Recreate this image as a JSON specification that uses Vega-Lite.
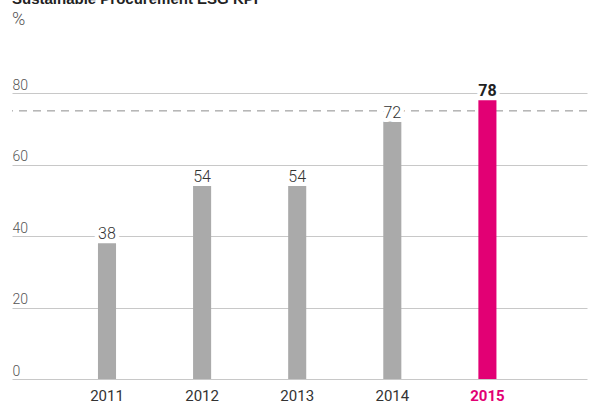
{
  "$schema": "https://vega.github.io/schema/vega-lite/v6.json",
  "width": 575,
  "height": 286,
  "autosize": "none",
  "padding": {"left": 12, "top": 93, "right": 8, "bottom": 28},
  "title": {
    "text": "Sustainable Procurement ESG KPI",
    "subtitle": "%",
    "anchor": "start",
    "frame": "group",
    "font": "Liberation Sans",
    "fontSize": 15,
    "fontWeight": "bold",
    "color": "#222222",
    "subtitleFont": "Roboto",
    "subtitleFontWeight": 300,
    "subtitleFontSize": 18,
    "subtitleColor": "#555555",
    "subtitlePadding": 4,
    "offset": 49
  },
  "config": {
    "view": {"stroke": null},
    "font": "Roboto"
  },
  "datasets": {
    "kpi": [
      {"year": "2011", "value": 38},
      {"year": "2012", "value": 54},
      {"year": "2013", "value": 54},
      {"year": "2014", "value": 72},
      {"year": "2015", "value": 78}
    ],
    "target": [{"target": 75}]
  },
  "layer": [
    {
      "data": {"name": "target"},
      "mark": {"type": "rule", "strokeDash": [8, 6], "color": "#8c8c8c", "strokeWidth": 1},
      "encoding": {
        "y": {
          "field": "target",
          "type": "quantitative",
          "scale": {"domain": [0, 80], "nice": false},
          "axis": {
            "values": [0, 20, 40, 60, 80],
            "title": null,
            "grid": true,
            "gridColor": "#c8c8c8",
            "gridWidth": 1,
            "domain": false,
            "ticks": false,
            "labelAlign": "left",
            "labelBaseline": "alphabetic",
            "labelPadding": 0,
            "labelOffset": -4,
            "labelFlush": false,
            "labelBound": false,
            "labelOverlap": false,
            "labelFont": "Roboto",
            "labelFontWeight": 300,
            "labelFontSize": 14,
            "labelColor": "#555555"
          }
        }
      }
    },
    {
      "data": {"name": "kpi"},
      "mark": {"type": "bar"},
      "encoding": {
        "x": {
          "field": "year",
          "type": "ordinal",
          "scale": {"paddingInner": 0.81, "paddingOuter": 0.928, "align": 0.487},
          "axis": {
            "title": null,
            "domain": false,
            "ticks": false,
            "labelAngle": 0,
            "labelPadding": 9,
            "labelFont": "Roboto",
            "labelFontSize": 15,
            "labelColor": {"condition": {"test": "datum.value == '2015'", "value": "#e20074"}, "value": "#333333"},
            "labelFontWeight": {"condition": {"test": "datum.value == '2015'", "value": "bold"}, "value": "normal"}
          }
        },
        "y": {"field": "value", "type": "quantitative"},
        "color": {
          "condition": {"test": "datum.year == '2015'", "value": "#e20074"},
          "value": "#aaaaaa"
        }
      }
    },
    {
      "data": {"name": "kpi"},
      "mark": {"type": "text", "dy": -4, "baseline": "alphabetic", "fontSize": 16, "font": "Roboto", "color": "white", "stroke": "white", "strokeWidth": 8, "strokeJoin": "round"},
      "encoding": {
        "x": {"field": "year", "type": "ordinal"},
        "y": {"field": "value", "type": "quantitative"},
        "text": {"field": "value", "type": "quantitative"}
      }
    },
    {
      "data": {"name": "kpi"},
      "transform": [{"filter": "datum.year != '2015'"}],
      "mark": {"type": "text", "dy": -4, "baseline": "alphabetic", "fontSize": 16, "fontWeight": 300, "font": "Roboto", "color": "#333333"},
      "encoding": {
        "x": {"field": "year", "type": "ordinal"},
        "y": {"field": "value", "type": "quantitative"},
        "text": {"field": "value", "type": "quantitative"}
      }
    },
    {
      "data": {"name": "kpi"},
      "transform": [{"filter": "datum.year == '2015'"}],
      "mark": {"type": "text", "dy": -4, "baseline": "alphabetic", "fontSize": 16, "fontWeight": "bold", "font": "Roboto", "color": "#222222"},
      "encoding": {
        "x": {"field": "year", "type": "ordinal"},
        "y": {"field": "value", "type": "quantitative"},
        "text": {"field": "value", "type": "quantitative"}
      }
    }
  ]
}
